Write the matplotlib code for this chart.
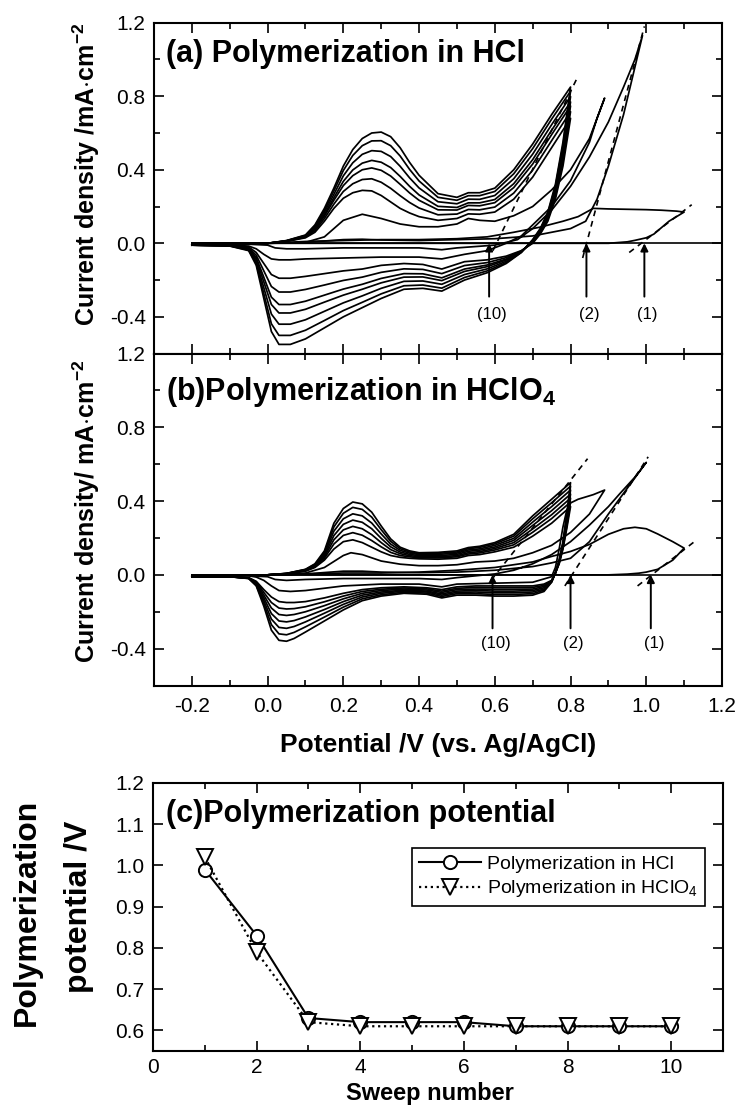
import matplotlib
matplotlib.use('Agg')
import matplotlib.pyplot as plt
from matplotlib.ticker import MultipleLocator, FormatStrFormatter

plt.rcParams['font.family'] = ['Liberation Sans', 'DejaVu Sans']
plt.rcParams['mathtext.fontset'] = 'custom'
plt.rcParams['mathtext.rm'] = 'Liberation Sans'
plt.rcParams['mathtext.bf'] = 'Liberation Sans:bold'
plt.rcParams['axes.unicode_minus'] = False

# ---------------- data: panel (a) HCl ----------------
FWD_E = [-0.2, -0.05, 0.0, 0.05, 0.1, 0.125, 0.15, 0.175, 0.2, 0.225, 0.25, 0.275, 0.3,
         0.325, 0.35, 0.375, 0.4, 0.45, 0.5, 0.53, 0.56, 0.6, 0.65, 0.7, 0.75, 0.8]
A_FWD = [
    [-0.01, 0.0, 0.0, 0.01, 0.03, 0.06, 0.12, 0.19, 0.245, 0.275, 0.288, 0.285, 0.26, 0.225, 0.19, 0.165, 0.145, 0.125, 0.135, 0.16, 0.158, 0.17, 0.24, 0.36, 0.52, 0.68],
    [-0.01, 0.0, 0.0, 0.011, 0.033, 0.068, 0.135, 0.213, 0.282, 0.324, 0.347, 0.351, 0.332, 0.299, 0.259, 0.222, 0.192, 0.155, 0.159, 0.184, 0.182, 0.197, 0.273, 0.398, 0.558, 0.716],
    [-0.01, 0.0, 0.0, 0.012, 0.036, 0.076, 0.148, 0.234, 0.314, 0.368, 0.40, 0.41, 0.397, 0.366, 0.321, 0.274, 0.234, 0.182, 0.181, 0.206, 0.204, 0.221, 0.303, 0.431, 0.591, 0.747],
    [-0.01, 0.0, 0.0, 0.013, 0.038, 0.081, 0.157, 0.248, 0.337, 0.399, 0.436, 0.451, 0.441, 0.412, 0.364, 0.31, 0.263, 0.201, 0.195, 0.22, 0.22, 0.238, 0.324, 0.455, 0.615, 0.769],
    [-0.01, 0.0, 0.0, 0.013, 0.04, 0.088, 0.169, 0.266, 0.367, 0.438, 0.484, 0.504, 0.50, 0.472, 0.419, 0.356, 0.301, 0.226, 0.215, 0.24, 0.239, 0.26, 0.351, 0.485, 0.645, 0.798],
    [-0.01, 0.0, 0.0, 0.014, 0.043, 0.095, 0.18, 0.285, 0.396, 0.478, 0.531, 0.557, 0.558, 0.531, 0.475, 0.402, 0.339, 0.25, 0.234, 0.259, 0.259, 0.282, 0.378, 0.515, 0.675, 0.827],
    [-0.01, 0.0, 0.0, 0.015, 0.045, 0.10, 0.19, 0.30, 0.42, 0.51, 0.57, 0.60, 0.605, 0.58, 0.52, 0.44, 0.37, 0.27, 0.25, 0.275, 0.275, 0.30, 0.40, 0.54, 0.70, 0.85],
]
A_REV_E = [0.78, 0.76, 0.74, 0.72, 0.7, 0.67, 0.63, 0.58, 0.52, 0.46, 0.41, 0.36, 0.3, 0.25,
           0.2, 0.15, 0.1, 0.06, 0.03, 0.01, -0.01, -0.03, -0.05, -0.1, -0.2]
A_REV = [
    [0.42, 0.24, 0.12, 0.05, 0.0, -0.04, -0.07, -0.09, -0.10, -0.14, -0.115, -0.11, -0.12, -0.14, -0.15, -0.165, -0.18, -0.19, -0.19, -0.17, -0.11, -0.05, -0.02, -0.01, -0.01],
    [0.447, 0.257, 0.13, 0.056, 0.004, -0.042, -0.078, -0.105, -0.121, -0.165, -0.142, -0.139, -0.158, -0.184, -0.202, -0.227, -0.251, -0.265, -0.265, -0.235, -0.15, -0.065, -0.024, -0.011, -0.01],
    [0.471, 0.272, 0.14, 0.062, 0.008, -0.044, -0.086, -0.118, -0.14, -0.188, -0.166, -0.165, -0.191, -0.223, -0.249, -0.282, -0.315, -0.333, -0.333, -0.293, -0.185, -0.078, -0.028, -0.012, -0.01],
    [0.488, 0.282, 0.146, 0.066, 0.011, -0.045, -0.091, -0.127, -0.153, -0.203, -0.183, -0.184, -0.215, -0.25, -0.282, -0.32, -0.359, -0.379, -0.379, -0.333, -0.21, -0.087, -0.03, -0.013, -0.01],
    [0.51, 0.296, 0.155, 0.071, 0.014, -0.047, -0.098, -0.139, -0.17, -0.223, -0.205, -0.207, -0.245, -0.286, -0.324, -0.37, -0.416, -0.44, -0.44, -0.385, -0.242, -0.099, -0.034, -0.013, -0.01],
    [0.532, 0.309, 0.163, 0.076, 0.017, -0.049, -0.105, -0.15, -0.186, -0.244, -0.227, -0.231, -0.275, -0.321, -0.366, -0.42, -0.473, -0.501, -0.501, -0.438, -0.274, -0.11, -0.037, -0.014, -0.01],
    [0.55, 0.32, 0.17, 0.08, 0.02, -0.05, -0.11, -0.16, -0.20, -0.26, -0.245, -0.25, -0.30, -0.35, -0.40, -0.46, -0.52, -0.55, -0.55, -0.48, -0.30, -0.12, -0.04, -0.015, -0.01],
]
A_C3_FWD_E = [-0.2, -0.05, 0.0, 0.05, 0.1, 0.15, 0.2, 0.25, 0.3, 0.35, 0.4, 0.45, 0.5, 0.53, 0.56, 0.6, 0.65, 0.7, 0.75, 0.8, 0.85, 0.89]
A_C3_FWD = [-0.01, 0.0, 0.0, 0.002, 0.005, 0.035, 0.125, 0.158, 0.135, 0.105, 0.09, 0.09, 0.105, 0.135, 0.125, 0.12, 0.15, 0.2, 0.29, 0.4, 0.57, 0.79]
A_C3_REV_E = [0.87, 0.85, 0.8, 0.75, 0.7, 0.67, 0.63, 0.58, 0.52, 0.46, 0.4, 0.3, 0.2, 0.1, 0.06, 0.03, 0.01, -0.01, -0.03, -0.05, -0.1, -0.2]
A_C3_REV = [0.68, 0.55, 0.34, 0.2, 0.1, 0.04, 0.0, -0.04, -0.06, -0.085, -0.075, -0.075, -0.08, -0.085, -0.09, -0.09, -0.085, -0.06, -0.03, -0.015, -0.01, -0.01]
A_C2_FWD_E = [-0.2, 0.0, 0.1, 0.2, 0.25, 0.3, 0.4, 0.5, 0.6, 0.7, 0.75, 0.8, 0.84, 0.87, 0.9, 0.94, 0.99]
A_C2_FWD = [-0.005, 0.0, 0.005, 0.02, 0.022, 0.018, 0.015, 0.02, 0.025, 0.04, 0.06, 0.08, 0.12, 0.24, 0.42, 0.70, 1.13]
A_C2_REV_E = [0.97, 0.94, 0.9, 0.85, 0.8, 0.75, 0.7, 0.66, 0.6, 0.5, 0.46, 0.4, 0.3, 0.2, 0.1, 0.05, 0.02, 0.0, -0.05, -0.2]
A_C2_REV = [1.0, 0.85, 0.66, 0.47, 0.31, 0.18, 0.08, 0.02, -0.01, -0.025, -0.035, -0.025, -0.025, -0.025, -0.03, -0.03, -0.025, -0.01, -0.005, -0.005]
A_C1_FWD_E = [-0.2, 0.9, 0.95, 0.97, 1.0, 1.02, 1.06, 1.1]
A_C1_FWD = [0.0, 0.0, 0.008, 0.016, 0.03, 0.05, 0.12, 0.17]
A_C1_REV_E = [1.08, 1.04, 1.0, 0.95, 0.9, 0.86, 0.82, 0.78, 0.72, 0.65, 0.58, 0.5, 0.4, 0.3, 0.2, 0.1, 0.0, -0.2]
A_C1_REV = [0.175, 0.18, 0.183, 0.185, 0.187, 0.19, 0.145, 0.12, 0.088, 0.06, 0.035, 0.025, 0.02, 0.02, 0.015, 0.01, 0.0, 0.0]

# ---------------- data: panel (b) HClO4 ----------------
B_FWD = [
    [-0.01, 0.0, 0.0, 0.005, 0.02, 0.04, 0.08, 0.14, 0.18, 0.19, 0.175, 0.15, 0.125, 0.105, 0.095, 0.09, 0.087, 0.085, 0.09, 0.105, 0.11, 0.125, 0.15, 0.21, 0.28, 0.37],
    [-0.01, 0.0, 0.0, 0.006, 0.022, 0.044, 0.09, 0.167, 0.214, 0.229, 0.215, 0.186, 0.152, 0.122, 0.105, 0.098, 0.093, 0.092, 0.098, 0.113, 0.119, 0.135, 0.163, 0.231, 0.305, 0.395],
    [-0.01, 0.0, 0.0, 0.006, 0.024, 0.047, 0.098, 0.19, 0.244, 0.263, 0.25, 0.218, 0.175, 0.137, 0.115, 0.104, 0.099, 0.098, 0.104, 0.12, 0.126, 0.143, 0.175, 0.249, 0.326, 0.416],
    [-0.01, 0.0, 0.0, 0.007, 0.025, 0.05, 0.106, 0.213, 0.274, 0.297, 0.285, 0.25, 0.198, 0.152, 0.124, 0.111, 0.104, 0.104, 0.111, 0.128, 0.134, 0.151, 0.187, 0.268, 0.348, 0.438],
    [-0.01, 0.0, 0.0, 0.007, 0.027, 0.054, 0.115, 0.237, 0.304, 0.331, 0.32, 0.281, 0.222, 0.167, 0.133, 0.118, 0.11, 0.111, 0.118, 0.135, 0.141, 0.16, 0.198, 0.286, 0.37, 0.46],
    [-0.01, 0.0, 0.0, 0.008, 0.029, 0.057, 0.123, 0.26, 0.334, 0.366, 0.355, 0.313, 0.245, 0.182, 0.142, 0.124, 0.115, 0.117, 0.124, 0.142, 0.149, 0.168, 0.21, 0.304, 0.391, 0.481],
    [-0.01, 0.0, 0.0, 0.008, 0.03, 0.06, 0.13, 0.28, 0.36, 0.395, 0.385, 0.34, 0.265, 0.195, 0.15, 0.13, 0.12, 0.122, 0.13, 0.148, 0.155, 0.175, 0.22, 0.32, 0.41, 0.50],
]
B_REV_E = [0.79, 0.78, 0.77, 0.76, 0.75, 0.73, 0.7, 0.65, 0.6, 0.55, 0.5, 0.46, 0.42, 0.36,
           0.3, 0.25, 0.2, 0.15, 0.1, 0.07, 0.05, 0.03, 0.01, -0.01, -0.03, -0.05, -0.1, -0.2]
B_REV = [
    [0.25, 0.14, 0.06, 0.01, -0.03, -0.05, -0.06, -0.06, -0.06, -0.06, -0.065, -0.08, -0.07, -0.065, -0.07, -0.08, -0.1, -0.125, -0.145, -0.15, -0.15, -0.145, -0.12, -0.08, -0.035, -0.015, -0.01, -0.01],
    [0.263, 0.147, 0.063, 0.01, -0.032, -0.057, -0.068, -0.069, -0.069, -0.068, -0.073, -0.088, -0.076, -0.071, -0.078, -0.09, -0.115, -0.146, -0.173, -0.183, -0.185, -0.18, -0.15, -0.095, -0.039, -0.016, -0.01, -0.01],
    [0.277, 0.153, 0.067, 0.01, -0.033, -0.063, -0.077, -0.078, -0.078, -0.077, -0.08, -0.095, -0.082, -0.077, -0.085, -0.1, -0.13, -0.167, -0.2, -0.215, -0.22, -0.215, -0.18, -0.11, -0.043, -0.017, -0.01, -0.01],
    [0.29, 0.16, 0.07, 0.01, -0.035, -0.07, -0.085, -0.088, -0.088, -0.085, -0.088, -0.103, -0.088, -0.083, -0.093, -0.11, -0.145, -0.188, -0.228, -0.248, -0.255, -0.25, -0.21, -0.125, -0.048, -0.018, -0.01, -0.01],
    [0.303, 0.167, 0.073, 0.01, -0.037, -0.077, -0.093, -0.097, -0.097, -0.093, -0.095, -0.11, -0.093, -0.088, -0.1, -0.12, -0.16, -0.208, -0.255, -0.28, -0.29, -0.285, -0.24, -0.14, -0.052, -0.018, -0.01, -0.01],
    [0.317, 0.173, 0.077, 0.01, -0.038, -0.083, -0.102, -0.106, -0.106, -0.102, -0.102, -0.117, -0.099, -0.094, -0.108, -0.13, -0.175, -0.229, -0.282, -0.312, -0.325, -0.32, -0.27, -0.155, -0.056, -0.019, -0.01, -0.01],
    [0.33, 0.18, 0.08, 0.01, -0.04, -0.09, -0.11, -0.115, -0.115, -0.11, -0.11, -0.125, -0.105, -0.10, -0.115, -0.14, -0.19, -0.25, -0.31, -0.345, -0.36, -0.355, -0.30, -0.17, -0.06, -0.02, -0.01, -0.01],
]
B_C3_FWD_E = [-0.2, -0.05, 0.0, 0.05, 0.1, 0.15, 0.2, 0.22, 0.25, 0.3, 0.35, 0.4, 0.45, 0.5, 0.55, 0.6, 0.65, 0.7, 0.75, 0.8, 0.85, 0.89]
B_C3_FWD = [-0.01, 0.0, 0.0, 0.003, 0.01, 0.04, 0.105, 0.12, 0.11, 0.075, 0.058, 0.05, 0.05, 0.055, 0.07, 0.075, 0.09, 0.12, 0.16, 0.23, 0.33, 0.46]
B_C3_REV_E = [0.86, 0.82, 0.8, 0.79, 0.78, 0.77, 0.76, 0.75, 0.7, 0.6, 0.5, 0.46, 0.4, 0.3, 0.2, 0.1, 0.06, 0.03, 0.01, -0.01, -0.03, -0.05, -0.1, -0.2]
B_C3_REV = [0.435, 0.41, 0.39, 0.35, 0.26, 0.14, 0.04, -0.01, -0.04, -0.045, -0.05, -0.065, -0.05, -0.05, -0.06, -0.085, -0.09, -0.085, -0.06, -0.03, -0.012, -0.005, -0.005, -0.005]
B_C2_FWD_E = [-0.2, 0.0, 0.1, 0.2, 0.25, 0.3, 0.4, 0.5, 0.6, 0.7, 0.75, 0.8, 0.85, 0.9, 0.95, 1.0]
B_C2_FWD = [-0.005, 0.0, 0.005, 0.02, 0.02, 0.015, 0.012, 0.015, 0.025, 0.045, 0.065, 0.09, 0.18, 0.33, 0.47, 0.61]
B_C2_REV_E = [0.97, 0.93, 0.9, 0.85, 0.8, 0.75, 0.7, 0.65, 0.6, 0.5, 0.46, 0.4, 0.3, 0.2, 0.1, 0.05, 0.02, 0.0, -0.05, -0.2]
B_C2_REV = [0.53, 0.44, 0.37, 0.27, 0.18, 0.11, 0.06, 0.025, 0.005, -0.015, -0.025, -0.02, -0.02, -0.02, -0.025, -0.03, -0.025, -0.01, -0.005, -0.005]
B_C1_FWD_E = [-0.2, 0.9, 0.95, 0.98, 1.0, 1.03, 1.07, 1.1]
B_C1_FWD = [0.0, 0.0, 0.004, 0.009, 0.015, 0.03, 0.08, 0.145]
B_C1_REV_E = [1.07, 1.03, 1.0, 0.97, 0.94, 0.9, 0.85, 0.8, 0.75, 0.7, 0.6, 0.5, 0.4, 0.3, 0.2, 0.0, -0.2]
B_C1_REV = [0.18, 0.222, 0.25, 0.258, 0.25, 0.22, 0.165, 0.127, 0.1, 0.07, 0.04, 0.025, 0.015, 0.01, 0.01, 0.0, 0.0]

ZERO_E = [-0.2, 1.2]

# tangent (onset) lines and arrows
A_TAN_E = [(0.595, 0.82), (0.832, 0.995), (0.955, 1.12)]
A_TAN_I = [(-0.04, 0.91), (-0.08, 1.18), (-0.05, 0.21)]
B_TAN_E = [(0.59, 0.845), (0.785, 1.005), (0.977, 1.127)]
B_TAN_I = [(-0.03, 0.63), (-0.06, 0.64), (-0.06, 0.18)]
ARROW_LABELS = ['(10)', '(2)', '(1)']
A_ARROW_E = [0.585, 0.842, 0.995]
B_ARROW_E = [0.594, 0.80, 1.012]

# ---------------- data: panel (c) ----------------
SWEEP = [1, 2, 3, 4, 5, 6, 7, 8, 9, 10]
POT_HCL = [0.99, 0.83, 0.63, 0.62, 0.62, 0.62, 0.61, 0.61, 0.61, 0.61]
POT_HCLO4 = [1.02, 0.79, 0.62, 0.61, 0.61, 0.61, 0.61, 0.61, 0.61, 0.61]

# ---------------- figure ----------------
W, H = 738, 1107
fig = plt.figure(figsize=(W / 100, H / 100), dpi=100)
axA = fig.add_axes([154 / W, 1 - 353.6 / H, 568 / W, 330.9 / H])
axB = fig.add_axes([154 / W, 1 - 685.5 / H, 568 / W, 331.9 / H])
axC = fig.add_axes([153 / W, 1 - 1051 / H, 570 / W, 268 / H])

LW = 1.25


def style(ax):
    for s in ax.spines.values():
        s.set_linewidth(1.5)
    ax.tick_params(which='both', direction='in', top=True, right=True, width=1.2,
                   labelsize=15)
    ax.tick_params(which='major', length=7)
    ax.tick_params(which='minor', length=4)


def draw_cv(ax, fwd_e, fwd, rev_e, rev, c3, c2, c1, tan_e, tan_i, arrow_e, lab_y):
    ax.plot(ZERO_E, [0, 0], color='k', lw=1.2)
    for f, r in zip(fwd, rev):
        ax.plot(fwd_e + rev_e, f + r, color='k', lw=LW)
    for (fe, fi, re, ri) in (c3, c2, c1):
        ax.plot(fe + re, fi + ri, color='k', lw=LW)
    for e, i in zip(tan_e, tan_i):
        ax.plot(e, i, color='k', lw=1.2, linestyle=(0, (3.5, 3)))
    for e, lab in zip(arrow_e, ARROW_LABELS):
        ax.annotate('', xy=(e, 0.0), xytext=(e, -0.29),
                    arrowprops=dict(arrowstyle='-|>', color='k', lw=1.4,
                                    mutation_scale=11, shrinkA=0, shrinkB=0))
        ax.text(e + 0.008, lab_y, lab, ha='center', va='center', fontsize=12)
    ax.set_xlim(-0.3, 1.2)
    ax.set_ylim(-0.6, 1.2)
    ax.xaxis.set_major_locator(MultipleLocator(0.2))
    ax.xaxis.set_minor_locator(MultipleLocator(0.1))
    ax.yaxis.set_major_locator(MultipleLocator(0.4))
    ax.yaxis.set_minor_locator(MultipleLocator(0.2))
    ax.xaxis.set_major_formatter(FormatStrFormatter('%.1f'))
    ax.yaxis.set_major_formatter(FormatStrFormatter('%.1f'))
    style(ax)
    ax.tick_params(axis='y', pad=6)
    ax.tick_params(axis='x', pad=8)


draw_cv(axA, FWD_E, A_FWD, A_REV_E, A_REV,
        (A_C3_FWD_E, A_C3_FWD, A_C3_REV_E, A_C3_REV),
        (A_C2_FWD_E, A_C2_FWD, A_C2_REV_E, A_C2_REV),
        (A_C1_FWD_E, A_C1_FWD, A_C1_REV_E, A_C1_REV),
        A_TAN_E, A_TAN_I, A_ARROW_E, -0.39)
axA.tick_params(labelbottom=False)
axA.text(0.021, 0.881, '(a) Polymerization in HCl', transform=axA.transAxes,
         fontsize=22, fontweight='bold', va='baseline', ha='left')

draw_cv(axB, FWD_E, B_FWD, B_REV_E, B_REV,
        (B_C3_FWD_E, B_C3_FWD, B_C3_REV_E, B_C3_REV),
        (B_C2_FWD_E, B_C2_FWD, B_C2_REV_E, B_C2_REV),
        (B_C1_FWD_E, B_C1_FWD, B_C1_REV_E, B_C1_REV),
        B_TAN_E, B_TAN_I, B_ARROW_E, -0.37)
axB.text(0.021, 0.860, r'(b)Polymerization in HClO$_\mathbf{4}$', transform=axB.transAxes,
         fontsize=22, fontweight='bold', va='baseline', ha='left')

fig.text(86 / W, 1 - 174 / H, r'Current density /mA$\mathbf{\cdot}$cm$^{\mathbf{-2}}$',
         rotation=90, ha='center', va='center', fontsize=18, fontweight='bold')
fig.text(86 / W, 1 - 511 / H, r'Current density/ mA$\mathbf{\cdot}$cm$^{\mathbf{-2}}$',
         rotation=90, ha='center', va='center', fontsize=18, fontweight='bold')
fig.text(438 / W, 1 - 752 / H, 'Potential /V (vs. Ag/AgCl)', ha='center',
         va='baseline', fontsize=19, fontweight='bold')

# panel (c)
axC.plot(SWEEP, POT_HCL, '-o', color='k', lw=1.5, ms=9.5, mfc='white', mec='k', mew=1.4,
         label='Polymerization in HCl')
axC.plot(SWEEP, POT_HCLO4, ':v', color='k', lw=1.6, ms=11, mfc='white', mec='k', mew=1.4,
         label=r'Polymerization in HClO$_4$')
axC.set_xlim(0, 11)
axC.set_ylim(0.55, 1.2)
axC.xaxis.set_major_locator(MultipleLocator(2))
axC.xaxis.set_minor_locator(MultipleLocator(1))
axC.yaxis.set_major_locator(MultipleLocator(0.1))
axC.yaxis.set_major_formatter(FormatStrFormatter('%.1f'))
style(axC)
axC.tick_params(axis='y', pad=6)
axC.tick_params(axis='x', pad=5)
leg = axC.legend(loc='upper right', bbox_to_anchor=(0.968, 0.757), fontsize=14,
                 frameon=True, fancybox=False, edgecolor='k', framealpha=1,
                 handlelength=3.2, handletextpad=0.3, borderpad=0.35,
                 labelspacing=0.3, borderaxespad=0)
leg.get_frame().set_linewidth(1.2)
axC.text(0.023, 0.856, '(c)Polymerization potential', transform=axC.transAxes,
         fontsize=22, fontweight='bold', va='baseline', ha='left')
fig.text(27 / W, 1 - 912 / H, 'Polymerization', rotation=90, ha='center', va='center',
         fontsize=23, fontweight='bold')
fig.text(79 / W, 1 - 907 / H, 'potential /V', rotation=90, ha='center', va='center',
         fontsize=23, fontweight='bold')
fig.text(430 / W, 1 - 1100 / H, 'Sweep number', ha='center', va='baseline',
         fontsize=17, fontweight='bold')

fig.savefig('out.png', dpi=100)
